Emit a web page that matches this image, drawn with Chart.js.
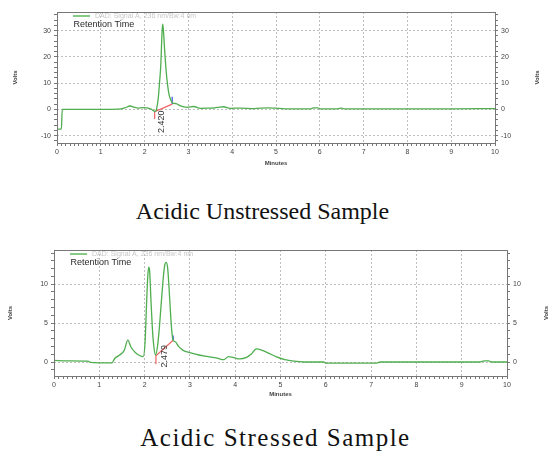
<!DOCTYPE html>
<html>
<head>
<meta charset="utf-8">
<script src="https://cdn.jsdelivr.net/npm/chart.js@4.4.1/dist/chart.umd.min.js"></script>
<style>
  body { margin: 0; background: #fff; width: 548px; height: 455px; position: relative; overflow: hidden; }
  canvas { position: absolute; left: 0; }
  .caption { position: absolute; text-align: center; line-height: 1; color: #111;
             font-family: "Liberation Serif", "Times New Roman", serif; white-space: nowrap; }
</style>
</head>
<body>
<canvas id="unstressed" width="548" height="175" style="top:0"></canvas>
<div class="caption" style="left:0;width:525px;top:199px;font-size:24px">Acidic Unstressed Sample</div>
<canvas id="stressed" width="548" height="170" style="top:235px"></canvas>
<div class="caption" style="left:3px;width:545px;top:425px;font-size:25px;letter-spacing:1.5px">Acidic Stressed Sample</div>

<script>
// Acidic unstressed sample (minutes / volts)
const unstressedTime = [0, 0.10, 0.12, 0.5, 1.0, 1.4, 1.55, 1.67, 1.75, 1.85, 1.95, 2.05, 2.15, 2.24, 2.27,
  2.31, 2.34, 2.37, 2.40, 2.415, 2.43, 2.46, 2.49, 2.52, 2.56, 2.60, 2.64, 2.72, 2.82, 2.97, 3.12, 3.27,
  3.45, 3.6, 3.72, 3.8, 3.96, 4.2, 4.5, 4.8, 5.0, 5.2, 5.5, 5.8, 5.85, 5.95, 6.0, 6.4, 6.5, 6.55, 7.0, 8.0, 9.0, 10.0];
const unstressedVolts = [-7.5, -7.5, 0, 0, 0, 0.1, 0.6, 1.3, 0.9, 0.5, 0.7, 0.6, 0.1, -0.8, 0,
  4, 10, 17, 30, 32.5, 30, 22, 15, 10, 5.5, 3.5, 2.4, 2.2, 1.3, 0.8, 1.1, 0.4,
  0.5, 0.6, 0.9, 1.0, 0.4, 0.5, 0.3, 0.6, 0.5, 0.2, 0.2, 0.2, 0.6, 0.6, 0.2, 0.2, 0.5, 0.2, 0.2, 0.2, 0.2, 0.3];
const unstressedBaseRedTime = [2.23, 2.23, 2.63];
const unstressedBaseRedVolts = [-3.7, -0.9, 2.0];
const unstressedBaseBlueTime = [2.63, 2.63];
const unstressedBaseBlueVolts = [2.0, 4.8];

// Acidic stressed sample
const stressedTime = [0, 0.3, 0.75, 0.8, 1.0, 1.28, 1.34, 1.45, 1.55, 1.63, 1.7, 1.8, 1.9, 1.97, 2.01,
  2.04, 2.07, 2.09, 2.11, 2.14, 2.17, 2.2, 2.24, 2.28, 2.32, 2.36, 2.40, 2.44, 2.48, 2.51,
  2.54, 2.57, 2.60, 2.63, 2.68, 2.75, 2.85, 3.0, 3.2, 3.4, 3.6, 3.75, 3.85, 3.95, 4.1,
  4.25, 4.35, 4.47, 4.6, 4.75, 4.9, 5.1, 5.3, 5.5, 5.95, 6.0, 7.1, 7.2, 9.4, 9.5, 9.6, 9.65, 10];
const stressedVolts = [0.2, 0.15, 0.1, -0.05, -0.1, -0.1, 0.45, 0.9, 1.5, 2.8, 1.9, 1.2, 0.8, 0.7, 2.5,
  7, 11, 12.2, 11.8, 8, 4.5, 2.2, 0.9, 1.8, 4, 7, 10, 12.3, 12.8, 12,
  9.5, 6.5, 4, 2.8, 2.6, 2.0, 1.5, 1.2, 0.9, 0.7, 0.5, 0.3, 0.7, 0.6, 0.4,
  0.6, 1.0, 1.7, 1.5, 1.1, 0.7, 0.3, 0.1, 0.0, 0.0, -0.15, -0.15, 0, 0, 0.15, 0.15, 0, 0];
const stressedBaseRedTime = [2.25, 2.25, 2.63];
const stressedBaseRedVolts = [-0.3, 0.8, 2.8];
const stressedBaseBlueTime = [2.63, 2.63];
const stressedBaseBlueVolts = [2.8, 3.4];

const legendText = 'DAD: Signal A, 236 nm/Bw:4 nm';
const titleText = 'Retention Time';

Chart.defaults.font.family = '"Liberation Sans", Arial, sans-serif';

const toPoints = (xs, ys) => xs.map((x, i) => ({ x: x, y: ys[i] }));
const isMult = (v, m) => Math.abs(v / m - Math.round(v / m)) < 1e-6;

// frame, legend, retention label, axis titles
const extrasPlugin = {
  id: 'extras',
  afterDraw(chart, args, o) {
    const { ctx, chartArea: a, scales } = chart;
    ctx.save();
    ctx.strokeStyle = '#777';
    ctx.lineWidth = 1;
    ctx.strokeRect(Math.round(a.left) + 0.5, Math.round(a.top) + 0.5, Math.round(a.right - a.left), Math.round(a.bottom - a.top));

    // legend
    ctx.strokeStyle = '#5cb85c';
    ctx.lineWidth = 1.5;
    ctx.beginPath();
    ctx.moveTo(a.left + 16, a.top + 4);
    ctx.lineTo(a.left + 33, a.top + 4);
    ctx.stroke();
    ctx.textBaseline = 'middle';
    ctx.fillStyle = '#c8c8c8';
    ctx.font = '7px "Liberation Sans", Arial, sans-serif';
    ctx.fillText(legendText, a.left + 38, a.top + 4);
    ctx.fillStyle = '#2a2a2a';
    ctx.font = '9px "Liberation Sans", Arial, sans-serif';
    ctx.fillText(titleText, a.left + 16.5, a.top + 13);

    // retention time label
    const px = scales.x.getPixelForValue(o.rtX);
    const py = scales.y.getPixelForValue(o.rtY);
    ctx.save();
    ctx.translate(px, py);
    ctx.rotate(-Math.PI / 2);
    ctx.textAlign = 'center';
    ctx.fillStyle = '#333';
    ctx.fillText(o.rt, 0, 0);
    ctx.restore();

    // axis titles
    ctx.font = 'bold 6px "Liberation Sans", Arial, sans-serif';
    ctx.fillStyle = '#444';
    ctx.textAlign = 'center';
    ctx.fillText('Minutes', (a.left + a.right) / 2, a.bottom + o.minutesGap);
    const midY = (a.top + a.bottom) / 2;
    [a.left - o.voltsLeft, a.right + o.voltsRight].forEach(x => {
      ctx.save();
      ctx.translate(x, midY);
      ctx.rotate(-Math.PI / 2);
      ctx.fillText('Volts', 0, 0);
      ctx.restore();
    });
    ctx.restore();
  }
};

function yAxis(position, min, max, step, labelEvery, width) {
  return {
    type: 'linear', position: position, min: min, max: max,
    afterFit: s => { s.width = width; },
    ticks: {
      stepSize: step, includeBounds: false, autoSkip: false, padding: 3, color: '#444',
      font: { size: 7 },
      callback: v => isMult(v, labelEvery) ? v : ''
    },
    grid: {
      drawOnChartArea: position === 'left',
      color: c => (c.tick && isMult(c.tick.value, labelEvery)) ? '#bdbdbd' : 'rgba(0,0,0,0)',
      tickColor: '#777', tickLength: 3
    },
    border: { display: false, dash: [2, 2] }
  };
}

function makeChart(id, cfg) {
  return new Chart(document.getElementById(id), {
    type: 'line',
    data: {
      datasets: [
        { data: toPoints(cfg.time, cfg.volts), borderColor: '#4fae4f', borderWidth: 1.3,
          pointRadius: 0, cubicInterpolationMode: 'monotone' },
        { data: toPoints(cfg.redTime, cfg.redVolts), borderColor: '#f26363', borderWidth: 1.2, pointRadius: 0 },
        { data: toPoints(cfg.blueTime, cfg.blueVolts), borderColor: '#3a4fe8', borderWidth: 1.2, pointRadius: 0 }
      ]
    },
    options: {
      responsive: false,
      animation: false,
      layout: { padding: { top: cfg.top, left: 0, right: 0, bottom: 0 } },
      scales: {
        x: {
          type: 'linear', min: 0, max: 10,
          afterFit: s => { s.height = cfg.bottom; },
          ticks: {
            stepSize: 0.1, includeBounds: false, autoSkip: false, maxRotation: 0, padding: 2,
            color: '#444', font: { size: 7 },
            callback: v => isMult(v, 1) ? v : ''
          },
          grid: {
            color: c => (c.tick && isMult(c.tick.value, 1)) ? '#bdbdbd' : 'rgba(0,0,0,0)',
            tickColor: '#777', tickLength: 3
          },
          border: { display: false, dash: [2, 2] }
        },
        y: yAxis('left', cfg.yMin, cfg.yMax, cfg.minor, cfg.major, cfg.left),
        y2: yAxis('right', cfg.yMin, cfg.yMax, cfg.minor, cfg.major, cfg.right)
      },
      plugins: {
        legend: { display: false },
        tooltip: { enabled: false },
        extras: { rt: cfg.rt, rtX: cfg.rtX, rtY: cfg.rtY, minutesGap: cfg.minutesGap,
                  voltsLeft: cfg.voltsLeft, voltsRight: cfg.voltsRight }
      }
    },
    plugins: [extrasPlugin]
  });
}

makeChart('unstressed', {
  time: unstressedTime, volts: unstressedVolts,
  redTime: unstressedBaseRedTime, redVolts: unstressedBaseRedVolts,
  blueTime: unstressedBaseBlueTime, blueVolts: unstressedBaseBlueVolts,
  yMin: -12.8, yMax: 37.1, minor: 2, major: 10,
  top: 12, bottom: 32, left: 57, right: 53,
  rt: '2.420', rtX: 2.38, rtY: -4.7,
  minutesGap: 20, voltsLeft: 42, voltsRight: 42
});

makeChart('stressed', {
  time: stressedTime, volts: stressedVolts,
  redTime: stressedBaseRedTime, redVolts: stressedBaseRedVolts,
  blueTime: stressedBaseBlueTime, blueVolts: stressedBaseBlueVolts,
  yMin: -1.8, yMax: 14.4, minor: 1, major: 5,
  top: 15, bottom: 29, left: 54, right: 41,
  rt: '2.479', rtX: 2.44, rtY: 0.74,
  minutesGap: 18, voltsLeft: 44, voltsRight: 39
});
</script>
</body>
</html>
